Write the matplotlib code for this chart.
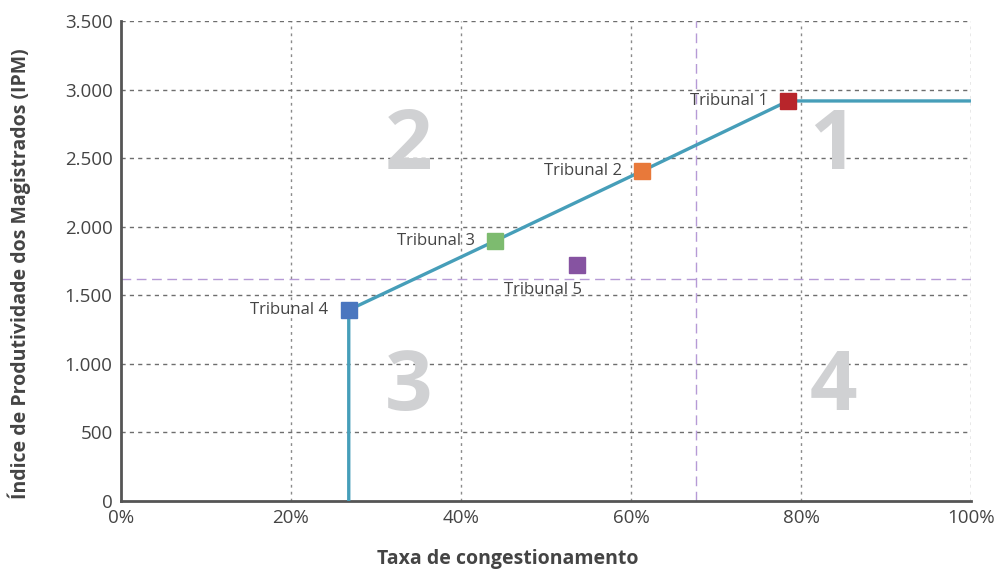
import matplotlib.pyplot as plt
from matplotlib.ticker import FuncFormatter

plt.rcParams['font.family'] = ['Open Sans', 'DejaVu Sans']

# dados dos tribunais (taxa de congestionamento em %, IPM)
tribunais = ['Tribunal 1', 'Tribunal 2', 'Tribunal 3', 'Tribunal 4', 'Tribunal 5']
taxa = [78.5, 61.3, 44.0, 26.8, 53.6]
ipm = [2917, 2406, 1896, 1393, 1721]
cores = ['#b8252b', '#e8793a', '#7dbb6f', '#4a76bf', '#8653a1']

# fronteira de eficiência
fronteira_x = [26.8, 26.8, 44.0, 61.3, 78.5, 100]
fronteira_y = [0, 1393, 1896, 2406, 2917, 2917]

# médias (linhas tracejadas roxas)
media_taxa = 67.6
media_ipm = 1619

quadrantes = ['2', '1', '3', '4']
quad_x = [33.8, 83.8, 33.8, 83.8]
quad_y = [2580, 2580, 820, 820]

fig = plt.figure(figsize=(9.98, 5.72), dpi=100)
ax = fig.add_axes([0.1212, 0.1241, 0.8517, 0.8392])

ax.set_xlim(0, 100)
ax.set_ylim(0, 3500)
ax.set_xticks(range(0, 101, 20))
ax.set_yticks(range(0, 3501, 500))
ax.xaxis.set_major_formatter(FuncFormatter(lambda v, p: f'{int(v)}%'))
ax.yaxis.set_major_formatter(FuncFormatter(lambda v, p: f'{int(v):,}'.replace(',', '.')))

for v in range(20, 101, 20):
    ax.axvline(v, color='#8a8a8a', lw=1, ls=(0, (2, 3)), zorder=1)
for v in range(500, 3501, 500):
    ax.axhline(v, color='#6e6e6e', lw=1, ls=(0, (3, 3)), zorder=1)

ax.axvline(media_taxa, color='#b69ad6', lw=1, ls=(0, (7, 4)), zorder=1)
ax.axhline(media_ipm, color='#b69ad6', lw=1, ls=(0, (7, 4)), zorder=1)

for q, qx, qy in zip(quadrantes, quad_x, quad_y):
    ax.text(qx, qy, q, fontsize=60, fontweight='bold', color='#d0d1d3',
            ha='center', va='center', zorder=2)

ax.plot(fronteira_x, fronteira_y, color='#469eb9', lw=2.4, zorder=3, solid_capstyle='butt')

for x, y, c in zip(taxa, ipm, cores):
    ax.plot(x, y, marker='s', markersize=11.5, color=c, ls='none', zorder=4)

for nome, x, y in zip(tribunais[:4], taxa[:4], ipm[:4]):
    ax.text(x - 2.4, y, nome, fontsize=12, color='#444444', ha='right', va='center', zorder=5)
ax.text(taxa[4] - 4.0, ipm[4] - 185, tribunais[4], fontsize=12, color='#444444',
        ha='center', va='center', zorder=5)

for s in ['top', 'right']:
    ax.spines[s].set_visible(False)
for s in ['left', 'bottom']:
    ax.spines[s].set_color('#555555')
    ax.spines[s].set_linewidth(2)
ax.tick_params(length=0, labelsize=13.5, colors='#444444', pad=6)

ax.set_xlabel('Taxa de congestionamento', fontsize=14, fontweight='bold', color='#444444')
ax.set_ylabel('Índice de Produtividade dos Magistrados (IPM)', fontsize=14,
              fontweight='bold', color='#444444')
ax.xaxis.set_label_coords(0.455, -0.1)
ax.yaxis.set_label_coords(-0.106, 0.473)

plt.savefig('out.png', dpi=100)
